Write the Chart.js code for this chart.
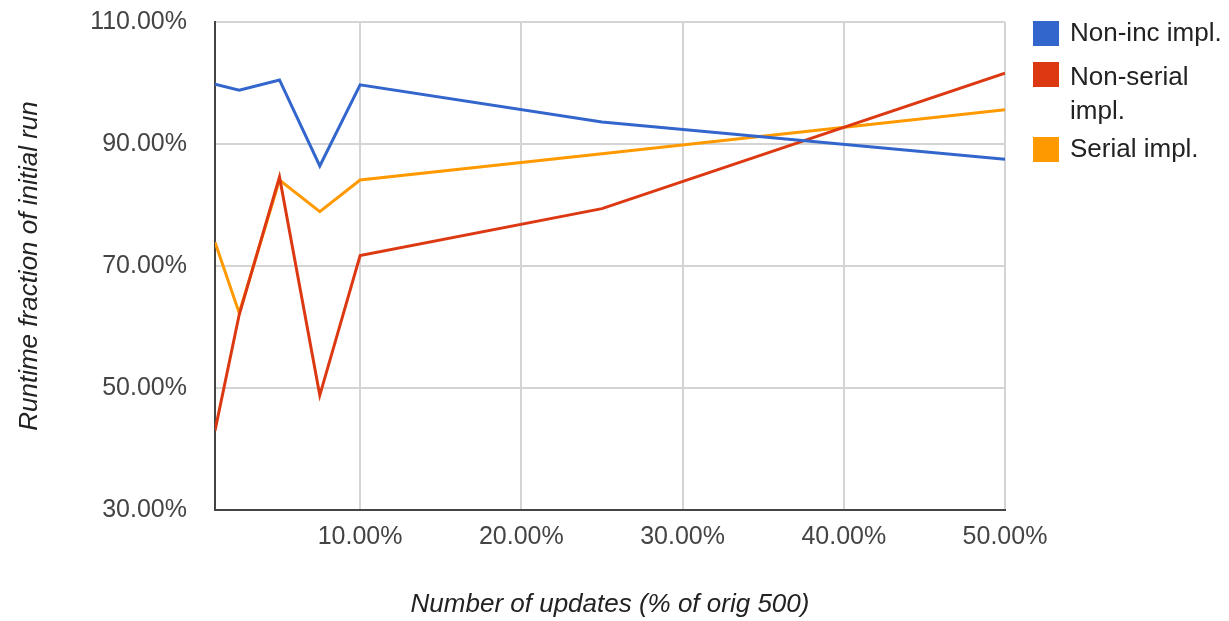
<!DOCTYPE html>
<html lang="en">
<head>
  <meta charset="UTF-8">
  <title>Runtime fraction of initial run</title>
  <style>
    * { margin: 0; padding: 0; box-sizing: border-box; }
    body { background: #fff; width: 1229px; height: 621px; overflow: hidden; position: relative; font-family: 'Liberation Sans', Arial, sans-serif; }
    #chart { position: absolute; left: 0; top: 0; }
    .item { position: absolute; left: 1070px; font-size: 26px; line-height: 34px; color: #222; white-space: nowrap; }
    .box { position: absolute; left: 1033px; width: 26px; height: 25px; }
  </style>
</head>
<body>
  <canvas id="chart" width="1229" height="621"></canvas>

  <div class="box" style="top:21px;background:#3366cc"></div>
  <div class="item" style="top:15px">Non-inc impl.</div>
  <div class="box" style="top:62px;background:#dc3912"></div>
  <div class="item" style="top:59px">Non-serial<br>impl.</div>
  <div class="box" style="top:137px;background:#ff9900"></div>
  <div class="item" style="top:131px">Serial impl.</div>

  <script src="https://cdn.jsdelivr.net/npm/chart.js"></script>
  <script>
    // % of orig 500 updates
    const xValues = [1, 2.5, 5, 7.5, 10, 25, 50];
    const nonInc    = [99.8, 98.8, 100.5, 86.4, 99.7, 93.6, 87.5];
    const nonSerial = [43.0, 62.0, 84.6, 48.8, 71.7, 79.4, 101.6];
    const serial    = [73.9, 62.3, 84.1, 78.9, 84.1, 88.4, 95.6];
    const xTicks = [10, 20, 30, 40, 50];
    const yTicks = [30, 50, 70, 90, 110];

    const pts = arr => arr.map((v, i) => ({ x: xValues[i], y: v }));
    const line = (label, arr, color) => ({
      label: label,
      data: pts(arr),
      borderColor: color,
      backgroundColor: color,
      borderWidth: 3,
      pointRadius: 0,
      tension: 0,
      fill: false
    });

    const tickFont = { family: "'Liberation Sans', Arial, sans-serif", size: 25 };
    const titleFont = { family: "'Liberation Sans', Arial, sans-serif", size: 26, style: 'italic' };

    new Chart(document.getElementById('chart'), {
      type: 'line',
      data: {
        datasets: [
          line('Non-inc impl.', nonInc, '#3366cc'),
          line('Non-serial impl.', nonSerial, '#dc3912'),
          line('Serial impl.', serial, '#ff9900')
        ]
      },
      options: {
        responsive: false,
        animation: false,
        layout: { padding: { left: 0, top: 22, right: 224, bottom: 0 } },
        plugins: { legend: { display: false }, tooltip: { enabled: false } },
        scales: {
          x: {
            type: 'linear',
            min: 1,
            max: 50,
            afterBuildTicks: s => { s.ticks = xTicks.map(v => ({ value: v })); },
            afterFit: s => { s.height = 111; },
            grid: { color: '#d4d4d4', lineWidth: 2, drawTicks: false },
            border: { color: '#444', width: 2 },
            ticks: { font: tickFont, color: '#444', padding: 12, maxRotation: 0, callback: v => v.toFixed(2) + '%' },
            title: { display: true, text: 'Number of updates (% of orig 500)', font: titleFont, color: '#222', padding: { top: 0, bottom: 1 } }
          },
          y: {
            min: 30,
            max: 110,
            afterBuildTicks: s => { s.ticks = yTicks.map(v => ({ value: v })); },
            afterFit: s => { s.width = 215; },
            // invisible tick marks keep the labels away from the axis
            grid: { color: '#d4d4d4', lineWidth: 2, drawTicks: true, tickLength: 28, tickColor: 'rgba(0,0,0,0)' },
            border: { color: '#444', width: 2 },
            ticks: { font: tickFont, color: '#444', padding: 0, callback: v => v.toFixed(2) + '%' },
            title: { display: true, text: 'Runtime fraction of initial run', font: titleFont, color: '#222', padding: { top: 14, bottom: 0 } }
          }
        }
      }
    });
  </script>
</body>
</html>
